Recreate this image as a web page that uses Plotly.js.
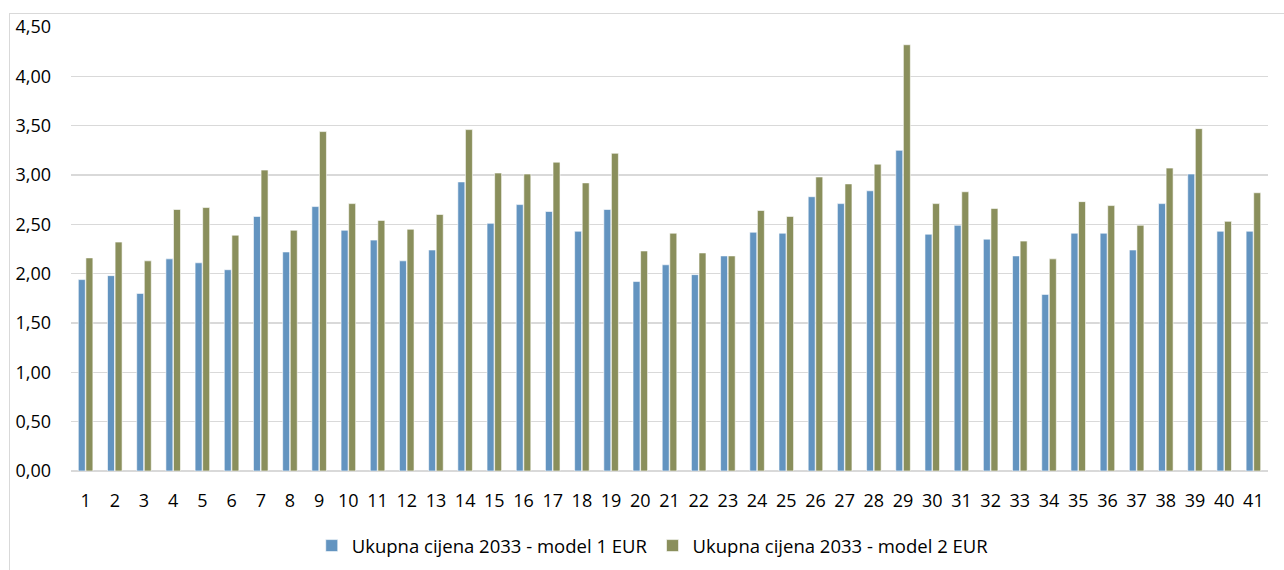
<!DOCTYPE html>
<html>
<head>
<meta charset="utf-8">
<script src="https://cdn.plot.ly/plotly-3.0.1.min.js"></script>
<style>
html,body{margin:0;padding:0;background:#fff;}
#frame{position:absolute;left:9px;top:13px;width:1290px;height:570px;border:1px solid #d9d9d9;box-sizing:border-box;}
#chart{position:absolute;left:0;top:0;width:1284px;height:570px;}
</style>
</head>
<body>
<div id="frame"></div>
<div id="chart"></div>
<script>
const categories = ["1","2","3","4","5","6","7","8","9","10","11","12","13","14","15","16","17","18","19","20","21","22","23","24","25","26","27","28","29","30","31","32","33","34","35","36","37","38","39","40","41"];
const model1 = [1.94,1.98,1.80,2.15,2.11,2.04,2.58,2.22,2.68,2.44,2.34,2.13,2.24,2.93,2.51,2.70,2.63,2.43,2.65,1.92,2.09,1.99,2.18,2.42,2.41,2.78,2.71,2.84,3.25,2.40,2.49,2.35,2.18,1.79,2.41,2.41,2.24,2.71,3.01,2.43,2.43];
const model2 = [2.16,2.32,2.13,2.65,2.67,2.39,3.05,2.44,3.44,2.71,2.54,2.45,2.60,3.46,3.02,3.01,3.13,2.92,3.22,2.23,2.41,2.21,2.18,2.64,2.58,2.98,2.91,3.11,4.32,2.71,2.83,2.66,2.33,2.15,2.73,2.69,2.49,3.07,3.47,2.53,2.82];
const name1 = "Ukupna cijena 2033 - model 1 EUR";
const name2 = "Ukupna cijena 2033 - model 2 EUR";
const yTicks = [0,0.5,1,1.5,2,2.5,3,3.5,4,4.5];

const font = {family:"Open Sans, Noto Sans, sans-serif", size:18, color:"#000"};
const traces = [
  {type:"bar", x:categories, y:model1, name:name1, marker:{color:"rgb(99,148,192)", line:{color:"#ffffff", width:0.6}}},
  {type:"bar", x:categories, y:model2, name:name2, marker:{color:"rgb(138,143,92)", line:{color:"#ffffff", width:0.6}}}
];
const layout = {
  width:1284, height:570,
  margin:{l:71, r:16, t:27, b:99, autoexpand:false},
  paper_bgcolor:"rgba(0,0,0,0)", plot_bgcolor:"rgba(0,0,0,0)",
  separators:",.",
  font:font,
  barmode:"group", bargap:0.48, bargroupgap:0.08,
  xaxis:{type:"category", tickfont:{size:18}, showgrid:false, zeroline:false, showline:false, ticks:"", ticklabelstandoff:17, automargin:false},
  yaxis:{range:[0,4.5], tickvals:yTicks, tickformat:".2f", showgrid:true, gridcolor:"#d9d9d9", gridwidth:1.5, zeroline:true, zerolinecolor:"#d9d9d9", zerolinewidth:1.5, showline:false, ticks:"", tickfont:{size:18}, ticklabelstandoff:19, automargin:false},
  legend:{orientation:"h", x:0.486, xanchor:"center", yref:"container", y:0.042, yanchor:"middle", font:{size:18.5}, itemwidth:30, traceorder:"normal"},
  showlegend:true
};
Plotly.newPlot("chart", traces, layout, {displayModeBar:false, staticPlot:true});
</script>
</body>
</html>
